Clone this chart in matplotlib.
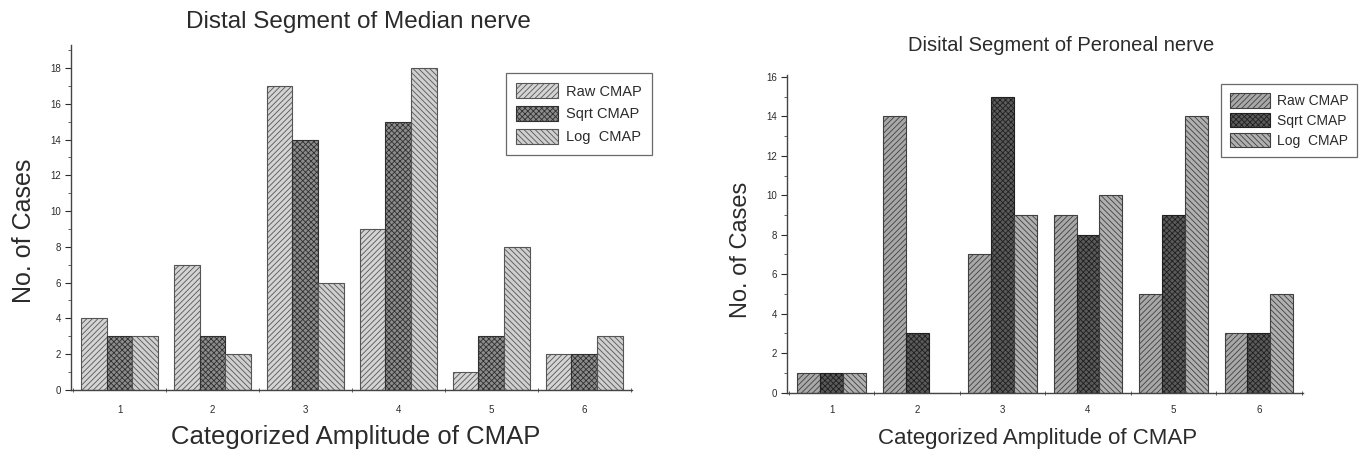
import numpy as np
import matplotlib
matplotlib.use("Agg")
import matplotlib.pyplot as plt
from matplotlib.ticker import MultipleLocator, FixedLocator

plt.rcParams['font.family'] = ['Liberation Sans', 'DejaVu Sans']
plt.rcParams['hatch.linewidth'] = 0.6

categories = [1, 2, 3, 4, 5, 6]
series_names = ["Raw CMAP", "Sqrt CMAP", "Log  CMAP"]

median_raw = [4, 7, 17, 9, 1, 2]
median_sqrt = [3, 3, 14, 15, 3, 2]
median_log = [3, 2, 6, 18, 8, 3]

peroneal_raw = [1, 14, 7, 9, 5, 3]
peroneal_sqrt = [1, 3, 15, 8, 9, 3]
peroneal_log = [1, 0, 9, 10, 14, 5]

txt = "#2b2b2b"


def draw_panel(ax, data, faces, edges, hatches, bw, ylim_top, ymax_tick, title, fs, pads, pos, leg):
    x = np.array(categories, dtype=float)
    for i, (vals, name) in enumerate(zip(data, series_names)):
        ax.bar(x + (i - 1) * bw, vals, width=bw, color=faces[i], edgecolor=edges[i],
               hatch=hatches[i], linewidth=0.8, label=name)
    ax.set_xlim(0.48, 6.52)
    ax.set_ylim(0, ylim_top)
    for s in ["top", "right"]:
        ax.spines[s].set_visible(False)
    for s in ["left", "bottom"]:
        ax.spines[s].set_color("#444444")
        ax.spines[s].set_linewidth(1.0)
    ax.set_yticks(np.arange(0, ymax_tick + 1, 2))
    ax.yaxis.set_minor_locator(MultipleLocator(1))
    ax.set_xticks(categories)
    ax.xaxis.set_minor_locator(FixedLocator(np.arange(0.5, 7, 1.0)))
    ax.tick_params(axis="x", which="major", length=0, labelsize=7, colors=txt, pad=pads[0])
    ax.tick_params(axis="x", which="minor", length=3, direction="inout", color="#444444")
    ax.tick_params(axis="y", which="major", length=4, labelsize=7, colors=txt, direction="out")
    ax.tick_params(axis="y", which="minor", length=2, direction="out", color="#444444")
    ax.set_title(title, fontsize=fs[0], color=txt, pad=pads[1], x=pos[0])
    ax.set_xlabel("Categorized Amplitude of CMAP", fontsize=fs[1], color=txt, labelpad=pads[2])
    ax.xaxis.label.set_x(pos[1])
    ax.set_ylabel("No. of Cases", fontsize=fs[2], color=txt, labelpad=pads[3])
    ax.yaxis.label.set_y(pos[2])
    lg = ax.legend(loc="upper right", bbox_to_anchor=leg[0], fontsize=leg[1], frameon=True,
                   fancybox=False, edgecolor="#444444", handlelength=2.9, handleheight=1.25,
                   handletextpad=0.5, labelspacing=leg[2], borderpad=leg[3], labelcolor=txt,
                   borderaxespad=0)
    lg.get_frame().set_linewidth(0.9)


fig = plt.figure(figsize=(13.69, 4.57), dpi=100)

ax1 = fig.add_axes([0.052, 0.147, 0.410, 0.755])
draw_panel(ax1, [median_raw, median_sqrt, median_log],
           faces=["#d4d4d4", "#8c8c8c", "#cfcfcf"],
           edges=["#555555", "#303030", "#555555"],
           hatches=["//////", "xxxxxx", "\\\\\\\\\\\\"],
           bw=0.277, ylim_top=19.3, ymax_tick=18,
           title="Distal Segment of Median nerve",
           fs=(17.5, 18.5, 18), pads=(11, 12, 7, 10),
           pos=(0.512, 0.507, 0.46),
           leg=((1.034, 0.919), 10.5, 0.5, 0.7))

ax2 = fig.add_axes([0.575, 0.141, 0.377, 0.695])
draw_panel(ax2, [peroneal_raw, peroneal_sqrt, peroneal_log],
           faces=["#a8a8a8", "#5a5a5a", "#b0b0b0"],
           edges=["#404040", "#202020", "#404040"],
           hatches=["//////", "xxxxxx", "\\\\\\\\\\\\"],
           bw=0.268, ylim_top=16.1, ymax_tick=16,
           title="Disital Segment of Peroneal nerve",
           fs=(14.5, 16, 17), pads=(9, 17, 9, 10),
           pos=(0.531, 0.485, 0.45),
           leg=((1.105, 0.972), 10, 0.35, 0.65))

fig.savefig("out.png", dpi=100)
